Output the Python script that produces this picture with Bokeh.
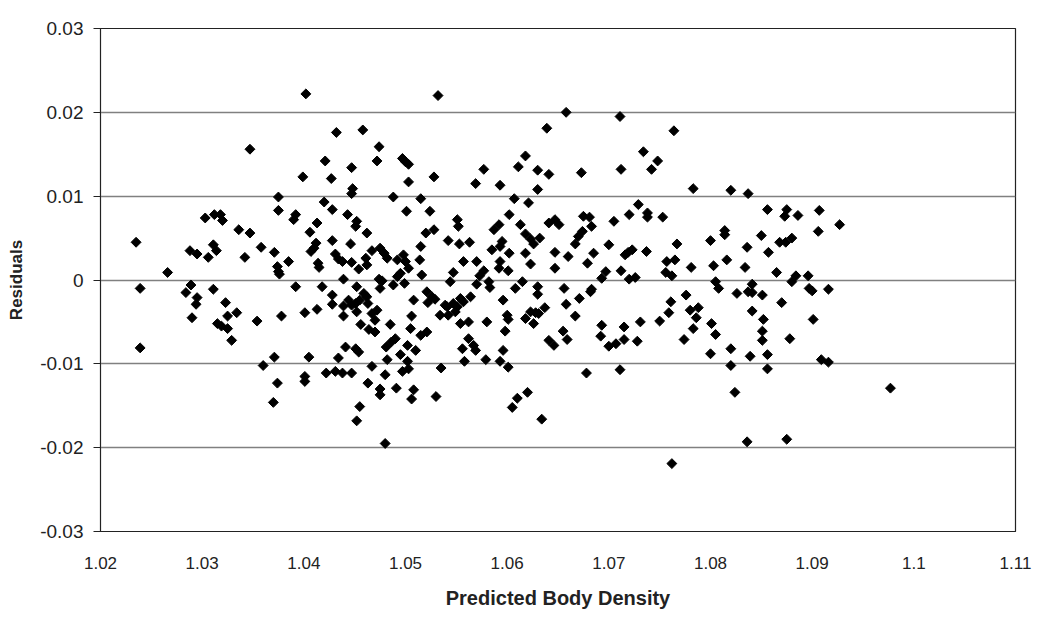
import numpy as np
from bokeh.plotting import figure
from bokeh.models import FixedTicker, CustomJSTickFormatter, ColumnDataSource
from bokeh.embed import file_html
from bokeh.resources import INLINE

x_ticks = [1.02, 1.03, 1.04, 1.05, 1.06, 1.07, 1.08, 1.09, 1.10, 1.11]
y_ticks = [-0.03, -0.02, -0.01, 0.0, 0.01, 0.02, 0.03]

predicted = [
    1.0347, 1.0375, 1.0375, 1.0303, 1.0312, 1.0318, 1.0320, 1.0336, 1.0347, 1.0235,
    1.0288, 1.0295, 1.0311, 1.0314, 1.0306, 1.0342, 1.0358, 1.0371, 1.0385, 1.0266,
    1.0374, 1.0375, 1.0376, 1.0289, 1.0239, 1.0311, 1.0284, 1.0295, 1.0294, 1.0323,
    1.0325, 1.0334, 1.0290, 1.0315, 1.0319, 1.0325, 1.0329, 1.0354, 1.0378, 1.0239,
    1.0371, 1.0360, 1.0374, 1.0370,
    1.0402, 1.0532, 1.0432, 1.0458, 1.0474, 1.0421, 1.0447, 1.0472, 1.0497, 1.0500,
    1.0503, 1.0399, 1.0427, 1.0503, 1.0528, 1.0448, 1.0447, 1.0420, 1.0488, 1.0515,
    1.0428, 1.0392, 1.0390, 1.0443, 1.0501, 1.0524, 1.0413, 1.0452, 1.0451, 1.0406,
    1.0462, 1.0520, 1.0528, 1.0428, 1.0446, 1.0412, 1.0410, 1.0407, 1.0542, 1.0515,
    1.0467, 1.0475, 1.0479, 1.0482, 1.0431, 1.0434, 1.0438, 1.0414, 1.0415, 1.0447,
    1.0461, 1.0462, 1.0454, 1.0498, 1.0492, 1.0500, 1.0503, 1.0514, 1.0439, 1.0474,
    1.0495, 1.0492, 1.0488, 1.0499, 1.0516, 1.0392, 1.0418, 1.0452, 1.0477, 1.0475,
    1.0428, 1.0428, 1.0413, 1.0401, 1.0439, 1.0439, 1.0444, 1.0447, 1.0451, 1.0452,
    1.0455, 1.0459, 1.0462, 1.0463, 1.0467, 1.0472, 1.0470, 1.0456, 1.0464, 1.0470,
    1.0485, 1.0508, 1.0521, 1.0526, 1.0522, 1.0529, 1.0506, 1.0505, 1.0541, 1.0534,
    1.0542, 1.0515, 1.0521, 1.0490, 1.0486, 1.0481, 1.0502, 1.0510, 1.0441, 1.0451,
    1.0454, 1.0405, 1.0434, 1.0482, 1.0495, 1.0502, 1.0503, 1.0467, 1.0422, 1.0431,
    1.0438, 1.0447, 1.0401, 1.0401, 1.0480, 1.0497, 1.0535, 1.0463, 1.0475, 1.0475,
    1.0491, 1.0508, 1.0506, 1.0530, 1.0455, 1.0452, 1.0480,
    1.0658, 1.0639, 1.0618, 1.0611, 1.0577, 1.0630, 1.0641, 1.0673, 1.0569, 1.0593,
    1.0630, 1.0607, 1.0621, 1.0602, 1.0551, 1.0552, 1.0587, 1.0592, 1.0613, 1.0641,
    1.0647, 1.0651, 1.0675, 1.0681, 1.0683, 1.0674, 1.0670, 1.0618, 1.0553, 1.0563,
    1.0595, 1.0593, 1.0623, 1.0626, 1.0632, 1.0667, 1.0700, 1.0585, 1.0602, 1.0618,
    1.0647, 1.0660, 1.0685, 1.0557, 1.0570, 1.0593, 1.0592, 1.0623, 1.0679, 1.0547,
    1.0577, 1.0573, 1.0601, 1.0647, 1.0697, 1.0693, 1.0544, 1.0570, 1.0582, 1.0583,
    1.0615, 1.0608, 1.0630, 1.0656, 1.0683, 1.0630, 1.0671, 1.0682, 1.0539, 1.0547,
    1.0551, 1.0549, 1.0554, 1.0557, 1.0564, 1.0596, 1.0600, 1.0601, 1.0580, 1.0554,
    1.0562, 1.0598, 1.0618, 1.0623, 1.0628, 1.0626, 1.0631, 1.0637, 1.0658, 1.0667,
    1.0562, 1.0567, 1.0569, 1.0556, 1.0596, 1.0641, 1.0646, 1.0655, 1.0659, 1.0693,
    1.0692, 1.0700, 1.0558, 1.0579, 1.0593, 1.0601, 1.0678, 1.0620, 1.0610, 1.0605,
    1.0634,
    1.0711, 1.0764, 1.0734, 1.0748, 1.0742, 1.0712, 1.0783, 1.0820, 1.0837, 1.0729,
    1.0856, 1.0705, 1.0720, 1.0738, 1.0738, 1.0753, 1.0814, 1.0814, 1.0800, 1.0850,
    1.0767, 1.0723, 1.0719, 1.0716, 1.0737, 1.0836, 1.0857, 1.0765, 1.0757, 1.0803,
    1.0816, 1.0781, 1.0834, 1.0712, 1.0720, 1.0726, 1.0756, 1.0762, 1.0805, 1.0808,
    1.0841, 1.0837, 1.0841, 1.0826, 1.0851, 1.0776, 1.0761, 1.0759, 1.0780, 1.0788,
    1.0786, 1.0841, 1.0852, 1.0715, 1.0731, 1.0750, 1.0801, 1.0805, 1.0783, 1.0851,
    1.0851, 1.0707, 1.0715, 1.0728, 1.0774, 1.0800, 1.0820, 1.0839, 1.0856, 1.0820,
    1.0856, 1.0711, 1.0824, 1.0836, 1.0762,
    1.0875, 1.0873, 1.0886, 1.0907, 1.0927, 1.0906, 1.0868, 1.0874, 1.0880, 1.0865,
    1.0884, 1.0896, 1.0880, 1.0897, 1.0900, 1.0916, 1.0870, 1.0901, 1.0878, 1.0909,
    1.0916, 1.0977, 1.0875,
]

residuals = [
    0.0156, 0.0099, 0.0083, 0.0074, 0.0078, 0.0078, 0.0071, 0.0060, 0.0056, 0.0045,
    0.0035, 0.0031, 0.0042, 0.0035, 0.0027, 0.0027, 0.0039, 0.0033, 0.0022, 0.0009,
    0.0016, 0.0010, 0.0007, -0.0006, -0.0010, -0.0011, -0.0015, -0.0021, -0.0029, -0.0027,
    -0.0043, -0.0039, -0.0045, -0.0052, -0.0055, -0.0058, -0.0072, -0.0049, -0.0043, -0.0081,
    -0.0092, -0.0102, -0.0123, -0.0146,
    0.0222, 0.0220, 0.0176, 0.0179, 0.0159, 0.0142, 0.0134, 0.0142, 0.0145, 0.0141,
    0.0138, 0.0123, 0.0121, 0.0117, 0.0123, 0.0109, 0.0103, 0.0093, 0.0099, 0.0097,
    0.0084, 0.0078, 0.0072, 0.0078, 0.0082, 0.0082, 0.0068, 0.0070, 0.0064, 0.0057,
    0.0056, 0.0056, 0.0060, 0.0047, 0.0043, 0.0044, 0.0038, 0.0034, 0.0047, 0.0040,
    0.0035, 0.0038, 0.0032, 0.0026, 0.0031, 0.0025, 0.0022, 0.0020, 0.0015, 0.0021,
    0.0026, 0.0018, 0.0013, 0.0030, 0.0024, 0.0022, 0.0014, 0.0024, 0.0001, 0.0001,
    0.0008, 0.0004, -0.0006, -0.0004, 0.0006, -0.0008, -0.0008, -0.0008, -0.0001, -0.0010,
    -0.0018, -0.0029, -0.0035, -0.0039, -0.0031, -0.0043, -0.0024, -0.0030, -0.0028, -0.0038,
    -0.0024, -0.0016, -0.0020, -0.0028, -0.0040, -0.0036, -0.0048, -0.0053, -0.0059, -0.0062,
    -0.0053, -0.0024, -0.0014, -0.0020, -0.0027, -0.0023, -0.0043, -0.0058, -0.0032, -0.0042,
    -0.0042, -0.0066, -0.0062, -0.0070, -0.0074, -0.0080, -0.0078, -0.0084, -0.0080, -0.0082,
    -0.0086, -0.0092, -0.0093, -0.0095, -0.0089, -0.0097, -0.0106, -0.0103, -0.0111, -0.0109,
    -0.0111, -0.0111, -0.0115, -0.0121, -0.0113, -0.0109, -0.0105, -0.0123, -0.0130, -0.0137,
    -0.0129, -0.0131, -0.0142, -0.0139, -0.0151, -0.0168, -0.0195,
    0.0200, 0.0181, 0.0148, 0.0135, 0.0132, 0.0131, 0.0126, 0.0128, 0.0115, 0.0113,
    0.0108, 0.0097, 0.0092, 0.0078, 0.0072, 0.0064, 0.0060, 0.0066, 0.0066, 0.0068,
    0.0072, 0.0066, 0.0076, 0.0075, 0.0064, 0.0058, 0.0052, 0.0055, 0.0043, 0.0045,
    0.0046, 0.0040, 0.0049, 0.0043, 0.0050, 0.0043, 0.0042, 0.0036, 0.0032, 0.0032,
    0.0033, 0.0028, 0.0032, 0.0022, 0.0022, 0.0022, 0.0014, 0.0019, 0.0020, 0.0009,
    0.0011, 0.0005, 0.0011, 0.0014, 0.0010, 0.0002, -0.0002, -0.0005, -0.0002, -0.0009,
    -0.0002, -0.0010, -0.0008, -0.0010, -0.0011, -0.0017, -0.0022, -0.0014, -0.0030, -0.0028,
    -0.0032, -0.0038, -0.0022, -0.0026, -0.0020, -0.0024, -0.0042, -0.0047, -0.0050, -0.0052,
    -0.0050, -0.0061, -0.0046, -0.0038, -0.0039, -0.0052, -0.0040, -0.0033, -0.0029, -0.0043,
    -0.0070, -0.0078, -0.0084, -0.0082, -0.0084, -0.0072, -0.0078, -0.0061, -0.0071, -0.0054,
    -0.0067, -0.0079, -0.0097, -0.0095, -0.0097, -0.0104, -0.0111, -0.0134, -0.0141, -0.0152,
    -0.0166,
    0.0195, 0.0178, 0.0153, 0.0142, 0.0132, 0.0132, 0.0109, 0.0107, 0.0103, 0.0090,
    0.0084, 0.0070, 0.0078, 0.0080, 0.0075, 0.0075, 0.0059, 0.0054, 0.0047, 0.0053,
    0.0043, 0.0036, 0.0033, 0.0030, 0.0034, 0.0039, 0.0033, 0.0024, 0.0022, 0.0017,
    0.0024, 0.0015, 0.0015, 0.0011, 0.0001, 0.0003, 0.0009, 0.0005, -0.0002, -0.0010,
    -0.0005, -0.0014, -0.0015, -0.0016, -0.0018, -0.0018, -0.0026, -0.0039, -0.0036, -0.0033,
    -0.0045, -0.0037, -0.0047, -0.0056, -0.0050, -0.0049, -0.0052, -0.0065, -0.0058, -0.0061,
    -0.0072, -0.0076, -0.0071, -0.0073, -0.0071, -0.0088, -0.0082, -0.0091, -0.0089, -0.0102,
    -0.0106, -0.0107, -0.0134, -0.0193, -0.0219,
    0.0084, 0.0076, 0.0077, 0.0083, 0.0066, 0.0058, 0.0045, 0.0045, 0.0050, 0.0009,
    0.0005, 0.0005, -0.0002, -0.0010, -0.0013, -0.0011, -0.0027, -0.0047, -0.0070, -0.0095,
    -0.0098, -0.0129, -0.0190,
]

n = min(len(predicted), len(residuals))
source = ColumnDataSource(dict(x=predicted[:n], y=residuals[:n]))

p = figure(width=1042, height=620, x_range=(1.02, 1.11), y_range=(-0.03, 0.03),
           output_backend="svg", toolbar_location=None,
           min_border_left=100, min_border_right=27, min_border_top=28, min_border_bottom=89,
           background_fill_color="white", border_fill_color="white")

p.outline_line_color = "#222222"
p.outline_line_width = 1.2

p.scatter("x", "y", source=source, marker="square", angle=np.pi / 4, size=7,
          fill_color="black", line_color="black")

fmt = CustomJSTickFormatter(code="""
    return tick.toFixed(2).replace(/\\.?0+$/, '');
""")

p.xaxis.ticker = FixedTicker(ticks=x_ticks)
p.yaxis.ticker = FixedTicker(ticks=y_ticks)
p.xaxis.formatter = fmt
p.yaxis.formatter = fmt

p.xgrid.visible = False
p.ygrid.ticker = FixedTicker(ticks=y_ticks)
p.ygrid.grid_line_color = "#808080"
p.ygrid.grid_line_width = 1.6

for ax in (p.xaxis[0], p.yaxis[0]):
    ax.axis_line_color = "#222222"
    ax.major_label_text_font = "Liberation Sans"
    ax.major_label_text_color = "#222222"
    ax.axis_label_text_font = "Liberation Sans"
    ax.axis_label_text_font_style = "bold"
    ax.axis_label_text_color = "#222222"
    ax.minor_tick_line_color = None

p.xaxis.axis_label = "Predicted Body Density"
p.yaxis.axis_label = "Residuals"
p.xaxis.major_tick_line_color = None
p.xaxis.major_tick_out = 0
p.xaxis.major_tick_in = 0
p.xaxis.major_label_standoff = 25
p.xaxis.major_label_text_font_size = "17px"
p.xaxis.axis_label_text_font_size = "20px"
p.xaxis.axis_label_standoff = 15

p.yaxis.major_tick_out = 7
p.yaxis.major_tick_in = 0
p.yaxis.major_tick_line_color = "#222222"
p.yaxis.major_label_standoff = 10
p.yaxis.major_label_text_font_size = "19px"
p.yaxis.axis_label_text_font_size = "17px"
p.yaxis.axis_label_standoff = 11

open("out.html", "w").write(file_html(p, INLINE))
